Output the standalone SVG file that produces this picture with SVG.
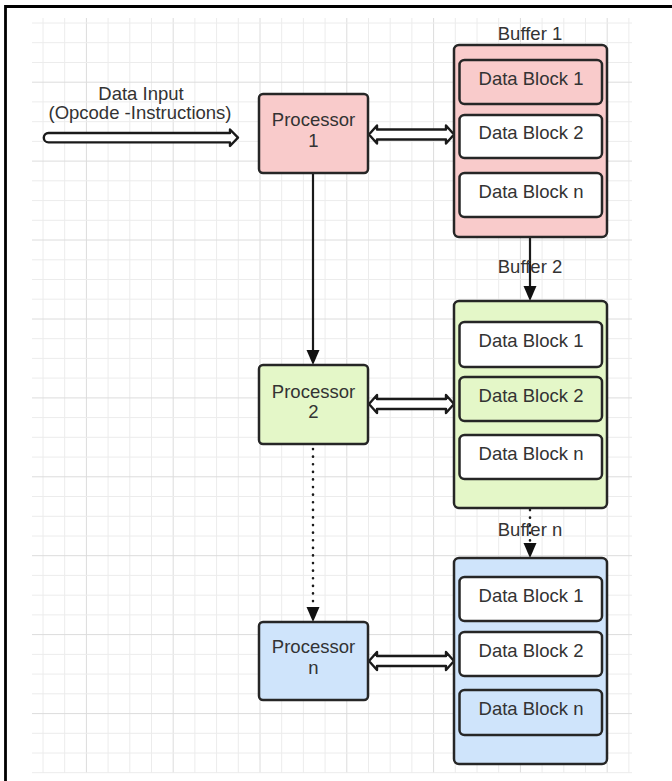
<svg xmlns="http://www.w3.org/2000/svg" width="672" height="781" viewBox="0 0 672 781">
<style>
.grid{stroke:#ececec;stroke-width:1;fill:none}
.gridd{stroke:#dcdcdc;stroke-width:1;fill:none}
.box{stroke:#262626;stroke-width:2.5}
.pink{fill:#f9cbcb}
.green{fill:#e4f7c8}
.blue{fill:#cfe4fb}
.white{fill:#ffffff}
text{font-family:"Liberation Sans",Arial,sans-serif;font-size:18.5px;fill:#333333;text-anchor:middle}
.line{stroke:#1a1a1a;stroke-width:2.2;fill:none}
.dot{stroke:#1a1a1a;stroke-width:2.6;fill:none;stroke-linecap:round;stroke-dasharray:0.1 7.5}
.fat{fill:#ffffff;stroke:#1a1a1a;stroke-width:2.4;stroke-linejoin:round}
.head{fill:#111111}
</style>
<defs>
<path id="dbl" class="fat" d="M0,0 L8,-9 L8,-5 L77,-5 L77,-9 L85,0 L77,9 L77,5 L8,5 L8,9 Z"/>
</defs>
<rect x="0" y="0" width="672" height="781" fill="#ffffff"/>
<g id="grid">
<path class="grid" d="M43,18V773M64.7,18V773M108.1,18V773M129.8,18V773M151.5,18V773M194.9,18V773M216.6,18V773M238.3,18V773M281.7,18V773M303.4,18V773M325.1,18V773M368.5,18V773M390.2,18V773M411.9,18V773M455.3,18V773M477,18V773M498.7,18V773M542.1,18V773M563.8,18V773M585.5,18V773M628.9,18V773"/>
<path class="gridd" d="M86.4,18V773M173.2,18V773M260,18V773M346.8,18V773M433.6,18V773M520.4,18V773M607.2,18V773"/>
<path class="grid" d="M32,23H632M32,42.7H632M32,62.5H632M32,101.9H632M32,121.7H632M32,141.4H632M32,180.8H632M32,200.6H632M32,220.3H632M32,259.8H632M32,279.5H632M32,299.2H632M32,338.7H632M32,358.4H632M32,378.1H632M32,417.6H632M32,437.3H632M32,457.1H632M32,496.5H632M32,516.3H632M32,536H632M32,575.4H632M32,595.2H632M32,614.9H632M32,654.4H632M32,674.1H632M32,693.8H632M32,733.3H632M32,753H632M32,772.7H632"/>
<path class="gridd" d="M32,82.2H632M32,161.1H632M32,240H632M32,319H632M32,397.9H632M32,476.8H632M32,555.7H632M32,634.6H632M32,713.6H632"/>
</g>
<path d="M5.5,781V6.5H672" fill="none" stroke="#000000" stroke-width="2.8"/>
<g id="connectors">
<path class="fat" d="M48.5,133 H230 V129.5 L238,137.7 L230,146 V142.4 H48.5 A4.7,4.7 0 0 1 48.5,133 Z"/>
<use href="#dbl" x="369" y="134.5"/>
<use href="#dbl" x="369" y="404"/>
<use href="#dbl" x="369" y="661"/>
<path class="line" d="M313,173V351"/>
<path class="head" d="M306.5,350L319.5,350L313,365Z"/>
<path class="line" d="M530,237V287"/>
<path class="head" d="M523.5,286L536.5,286L530,301Z"/>
<path class="dot" d="M313,449V606"/>
<path class="head" d="M306.5,607L319.5,607L313,622Z"/>
<path class="dot" d="M530,510V542"/>
<path class="head" d="M523.5,543L536.5,543L530,558Z"/>
</g>
<g id="data-input">
<text x="141" y="100">Data Input</text>
<text x="140" y="119">(Opcode -Instructions)</text>
</g>
<g id="processor-1">
<rect class="box pink" x="259" y="94" width="109" height="79" rx="4"/>
<text x="313.5" y="126">Processor</text>
<text x="313.5" y="147">1</text>
</g>
<g id="processor-2">
<rect class="box green" x="259" y="365" width="109" height="79" rx="4"/>
<text x="313.5" y="398">Processor</text>
<text x="313.5" y="418">2</text>
</g>
<g id="processor-n">
<rect class="box blue" x="259" y="622" width="109" height="78" rx="4"/>
<text x="313.5" y="653">Processor</text>
<text x="313.5" y="674">n</text>
</g>
<g id="buffer-1">
<text x="530" y="40">Buffer 1</text>
<rect class="box pink" x="454" y="45" width="153" height="192" rx="5"/>
<rect class="box pink" x="459.5" y="60" width="142.5" height="44" rx="5"/>
<text x="531" y="85">Data Block 1</text>
<rect class="box white" x="459.5" y="115" width="142.5" height="43" rx="5"/>
<text x="531" y="139">Data Block 2</text>
<rect class="box white" x="459.5" y="173" width="142.5" height="44" rx="5"/>
<text x="531" y="198">Data Block n</text>
</g>
<g id="buffer-2">
<text x="530" y="273">Buffer 2</text>
<rect class="box green" x="454" y="301" width="153" height="207" rx="5"/>
<rect class="box white" x="459.5" y="322" width="142.5" height="45" rx="5"/>
<text x="531" y="347">Data Block 1</text>
<rect class="box green" x="459.5" y="377" width="142.5" height="44" rx="5"/>
<text x="531" y="402">Data Block 2</text>
<rect class="box white" x="459.5" y="435" width="142.5" height="44" rx="5"/>
<text x="531" y="460">Data Block n</text>
</g>
<g id="buffer-n">
<text x="530" y="536">Buffer n</text>
<rect class="box blue" x="454" y="558" width="153" height="206" rx="5"/>
<rect class="box white" x="459.5" y="577" width="142.5" height="44" rx="5"/>
<text x="531" y="602">Data Block 1</text>
<rect class="box white" x="459.5" y="632" width="142.5" height="44" rx="5"/>
<text x="531" y="657">Data Block 2</text>
<rect class="box blue" x="459.5" y="690" width="142.5" height="45" rx="5"/>
<text x="531" y="715">Data Block n</text>
</g>
</svg>
